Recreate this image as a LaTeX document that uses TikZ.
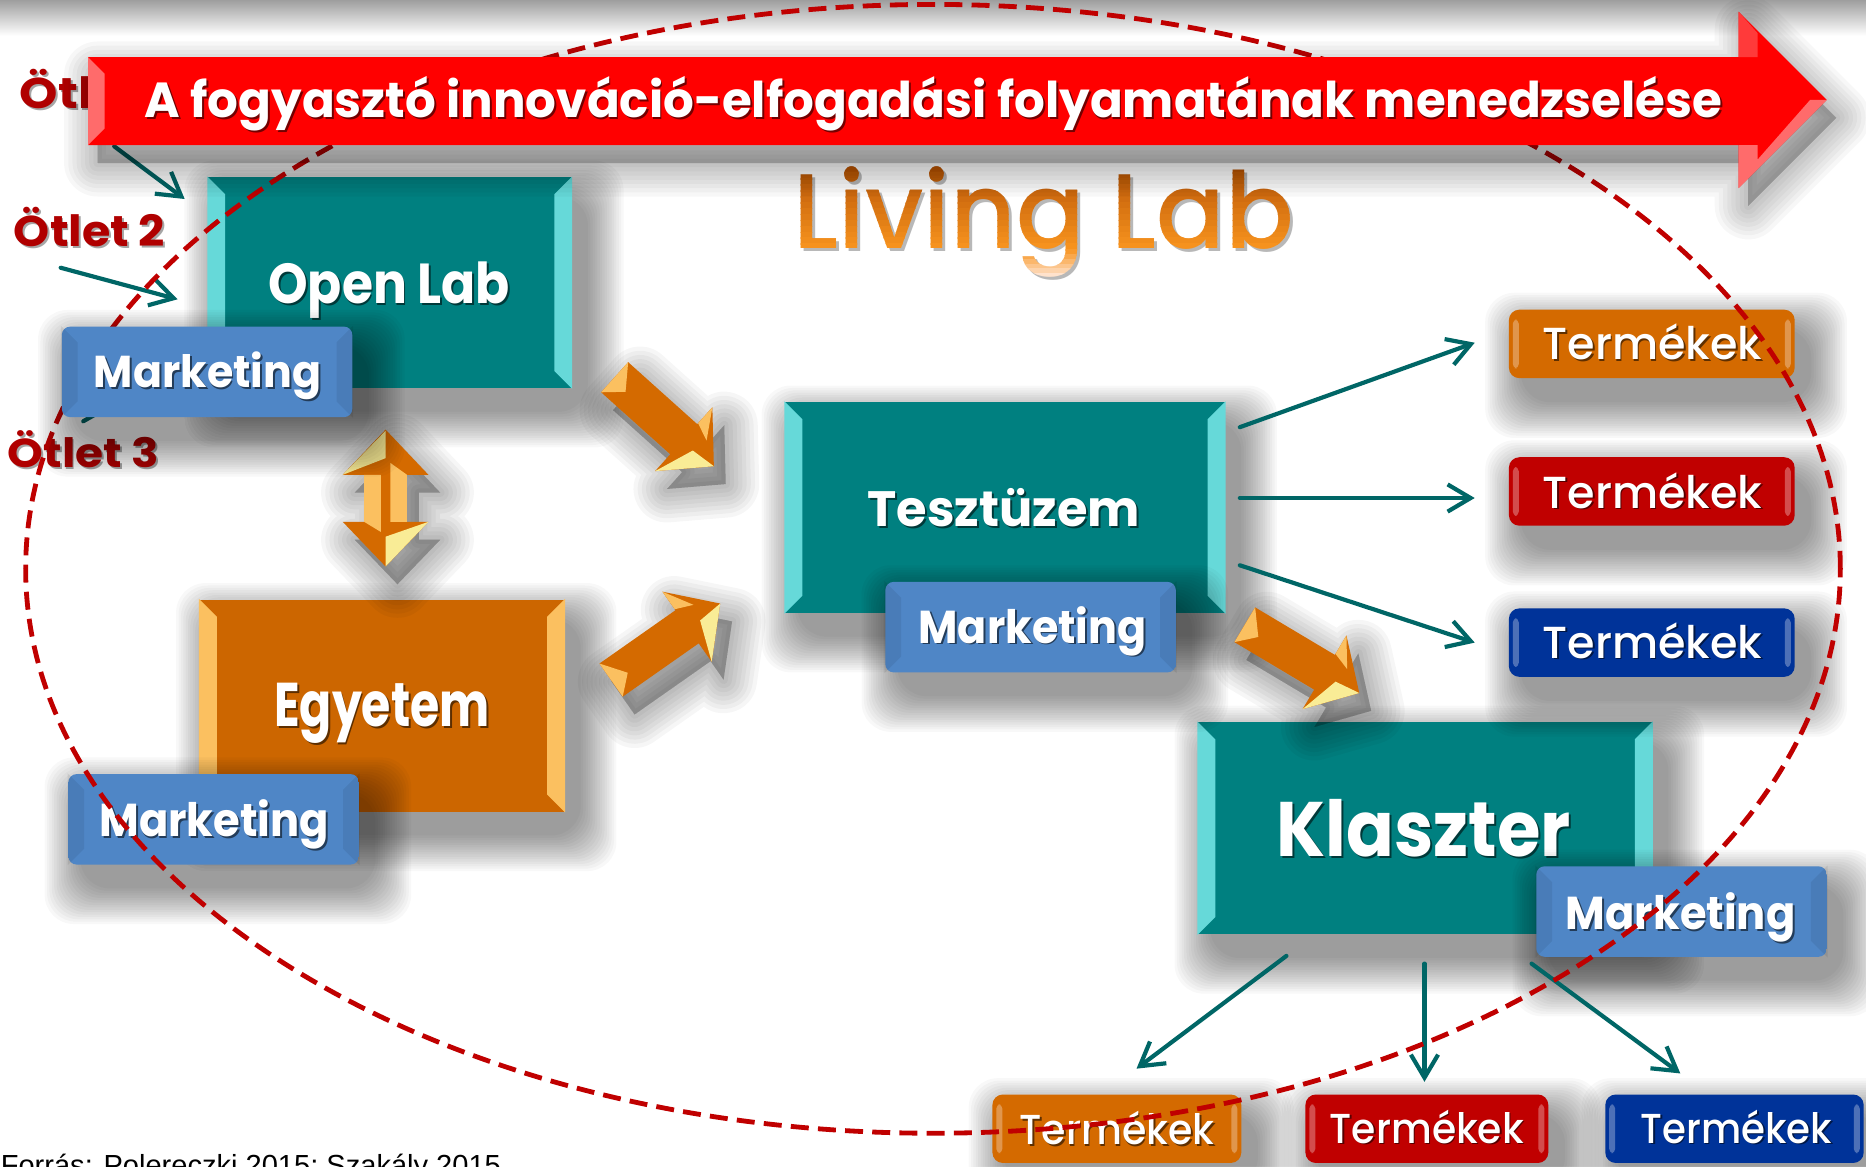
\documentclass[tikz,border=0pt]{standalone}
\usepackage{fontspec}
\setmainfont{Poppins}
\newfontfamily\medfont{Poppins Medium}
\newfontfamily\srcfont{Liberation Sans}
\usetikzlibrary{calc,arrows.meta}

\definecolor{tealface}{HTML}{008080}
\definecolor{tealbevel}{HTML}{66D9D9}
\definecolor{tealarrow}{HTML}{006666}
\definecolor{egyface}{HTML}{CC6600}
\definecolor{egybevel}{HTML}{FBC060}
\definecolor{arrorange}{HTML}{D46A00}
\definecolor{arrlight}{HTML}{FBC060}
\definecolor{arrpale}{HTML}{F9EC96}
\definecolor{ideared}{HTML}{B00000}
\definecolor{ellred}{HTML}{C00000}
\definecolor{banred}{HTML}{FF0000}
\definecolor{banlight}{HTML}{FF6B6B}
\definecolor{banmid}{HTML}{FF3A3A}
\definecolor{mkttop}{HTML}{7CBAF8}
\definecolor{mktmid}{HTML}{4F86C6}
\definecolor{mktbot}{HTML}{6AAAF0}
\definecolor{tOrange}{HTML}{D46A00}
\definecolor{tRed}{HTML}{C00000}
\definecolor{tBlue}{HTML}{003399}
\definecolor{llpale}{HTML}{FFE2CC}
\definecolor{llbright}{HTML}{F7931E}
\definecolor{lldark}{HTML}{B85406}

\pgfdeclareverticalshading{mktshade}{100bp}{color(0bp)=(mktbot); color(14bp)=(mktmid); color(80bp)=(mktmid); color(100bp)=(mkttop)}

\newcommand\boxlabel[6]{%
  \node[lblsh] (#1-sh) at (#2+1.6,#3+1.6) {\resizebox{#4}{#5}{#6}};
  \node[lbl] (#1) at (#2,#3) {\resizebox{#4}{#5}{#6}};}
\newcommand\termlabel[6]{%
  \node[lblsh,font=\medfont] (#1-sh) at (#2+1.4,#3+1.4) {\resizebox{#4}{#5}{#6}};
  \node[lbl,font=\medfont] (#1) at (#2,#3) {\resizebox{#4}{#5}{#6}};}
\newcommand\sidebevel[2]{%
  \fill[#2] (#1.north west) -- ++(15,15) -- ($(#1.south west)+(15,-15)$) -- (#1.south west) -- cycle;
  \fill[#2] (#1.north east) -- ++(-15,15) -- ($(#1.south east)+(-15,-15)$) -- (#1.south east) -- cycle;}
\newcommand\mktbevel[1]{%
  \fill[black, opacity=0.07] (#1.north west) -- ++(14,14) -- ($(#1.south west)+(14,-14)$) -- (#1.south west) -- cycle;
  \fill[black, opacity=0.07] (#1.north east) -- ++(-14,14) -- ($(#1.south east)+(-14,-14)$) -- (#1.south east) -- cycle;}
\newcommand\termhl[1]{%
  \fill[white, opacity=0.3, rounded corners=1pt] ($(#1.north west)+(4,9)$) rectangle ($(#1.south west)+(9,-9)$);
  \fill[white, opacity=0.3, rounded corners=1pt] ($(#1.north east)+(-9,9)$) rectangle ($(#1.south east)+(-4,-9)$);}
% soft shadow of a box: centre x, centre y, width, height (units)
\newcommand\shadowbox[4]{%
  \foreach \e in {32,30,...,2}{%
    \fill[black, opacity=0.028, rounded corners=7pt] (#1-#3/2+12-\e, #2-#4/2+18-\e) rectangle (#1+#3/2+12+\e, #2+#4/2+18+\e);}}
\newcommand\arrowpoly{(0,-17) -- (78,-17) -- (78,-36) -- (112,0) -- (78,36) -- (78,17) -- (0,17) -- cycle}
\newcommand\arrowtd[4]{%
  \begin{scope}[shift={(#2+10,#3+15)}, rotate=#4]
    \foreach \w in {16,14,...,2}{\filldraw[black, opacity=0.035, line width=\w pt, line join=round] \arrowpoly;}
  \end{scope}
  \begin{scope}[shift={(#2,#3)}, rotate=#4]
    \coordinate (#1-tail) at (0,0);
    \coordinate (#1-tip) at (112,0);
    \fill[arrorange] \arrowpoly;
    \fill[arrlight] (0,-17) -- (0,17) -- (15,3) -- cycle;
    \fill[arrpale] (78,36) -- (90,2) -- (112,0) -- cycle;
    \fill[arrlight] (78,-18) -- (78,-36) -- (93,-12) -- cycle;
  \end{scope}}
\newcommand\dblpoly{(324,361) -- (360,399) -- (342,399) -- (342,438.5) -- (360,438.5) -- (324,476) -- (288,438.5) -- (306,438.5) -- (306,399) -- (288,399) -- cycle}
\newcommand\banpoly{(74,48) -- (1461,48) -- (1461,10) -- (1535,84) -- (1461,158) -- (1461,122) -- (74,122) -- cycle}
\newcommand\LLtext{\resizebox{4.205cm}{0.686cm}{\medfont Living Lab}}

\begin{document}
\begin{tikzpicture}[x=0.01cm, y=-0.01cm,
  lbl/.style={anchor=base, inner sep=0pt, text=white, font=\bfseries},
  lblsh/.style={anchor=base, inner sep=0pt, text=black, text opacity=0.55, font=\bfseries},
  otl/.style={anchor=base west, inner sep=0pt, text=ideared, font=\bfseries},
  otlsh/.style={anchor=base west, inner sep=0pt, text=black, text opacity=0.35, font=\bfseries},
  tealbox/.style={fill=tealface, inner sep=0pt},
  egybox/.style={fill=egyface, inner sep=0pt},
  mkt/.style={shade, shading=mktshade, inner sep=0pt, rounded corners=2pt, minimum width=2.44cm, minimum height=0.76cm},
  termbox/.style={inner sep=0pt, rounded corners=2.5pt, minimum height=0.575cm},
  tealcon/.style={draw=tealarrow, line width=1pt, line cap=round, -{Straight Barb[length=5.5pt,width=6.5pt]}},
]
\useasboundingbox (0,0) rectangle (1568,980);
\clip (0,0) rectangle (1568,980);
\fill[white] (0,0) rectangle (1568,980);
\shade[top color=black!38, bottom color=white] (0,0) rectangle (1568,30);

% --- idea labels
\node[otlsh] (otlet1-sh) at (17.5,92.5) {\resizebox{1.27cm}{0.33cm}{Ötlet 1}};
\node[otl] (otlet1) at (16,91) {\resizebox{1.27cm}{0.33cm}{Ötlet 1}};
\node[otlsh] (otlet2-sh) at (12.5,208.5) {\resizebox{1.27cm}{0.33cm}{Ötlet 2}};
\node[otl] (otlet2) at (11,207) {\resizebox{1.27cm}{0.33cm}{Ötlet 2}};
\node[otlsh] (otlet3-sh) at (7.5,394.5) {\resizebox{1.27cm}{0.31cm}{Ötlet 3}};
\node[otl] (otlet3) at (6,393) {\resizebox{1.27cm}{0.31cm}{Ötlet 3}};

% --- main boxes
\shadowbox{327.5}{237.5}{305}{177}
\node[tealbox, minimum width=3.05cm, minimum height=1.77cm] (openlab) at (327.5,237.5) {};
\sidebevel{openlab}{tealbevel}
\shadowbox{321}{593}{306}{178}
\node[egybox, minimum width=3.06cm, minimum height=1.78cm] (egyetem) at (321,593) {};
\sidebevel{egyetem}{egybevel}
\shadowbox{844.5}{426.5}{369}{177}
\node[tealbox, minimum width=3.69cm, minimum height=1.77cm] (tesz) at (844.5,426.5) {};
\sidebevel{tesz}{tealbevel}
\shadowbox{1197.5}{696}{381}{178}
\node[tealbox, minimum width=3.81cm, minimum height=1.78cm] (klaszter) at (1197.5,696) {};
\sidebevel{klaszter}{tealbevel}

% --- idea arrows
\coordinate (o1s) at (96,123);
\coordinate (o2s) at (51,225);
\coordinate (o3s) at (70,354);
\draw[tealcon] (o1s) -- ($(openlab.north west)+(-19,19)$);
\draw[tealcon] (o2s) -- ($(openlab.west)+(-25,14)$);
\draw[tealcon] (o3s) -- ($(openlab.west)+(-5,60)$);

% --- 3D arrows
\arrowtd{a1}{516.5}{317}{-41.9}
\arrowtd{a2}{513.5}{571.5}{35.06}
\arrowtd{a3}{1046}{525}{-30.8}

% double vertical arrow
\begin{scope}[shift={(10,15)}]
  \foreach \w in {16,14,...,2}{\filldraw[black, opacity=0.035, line width=\w pt, line join=round] \dblpoly;}
\end{scope}
\fill[arrorange] \dblpoly;
\fill[arrlight] (306,399) -- (320,399) -- (320,447) -- (306,438.5) -- cycle;
\fill[arrlight] (328,389) -- (342,399) -- (342,438.5) -- (328,438.5) -- cycle;
\fill[arrpale] (288,399) -- (324,362) -- (324,385) -- (306,392) -- cycle;
\fill[arrpale] (324,451) -- (360,438.5) -- (324,476) -- cycle;

% --- product boxes
\shadowbox{1388}{289}{240}{58}
\shadowbox{1388}{413}{240}{58}
\shadowbox{1388}{540}{240}{58}
\shadowbox{938.5}{948.5}{209}{57}
\shadowbox{1199}{948.5}{204}{57}
\shadowbox{1457.5}{948.5}{217}{57}
\node[termbox, fill=tOrange, minimum width=2.40cm] (term1) at (1388,289) {};
\node[termbox, fill=tRed, minimum width=2.40cm] (term2) at (1388,413) {};
\node[termbox, fill=tBlue, minimum width=2.40cm] (term3) at (1388,540) {};
\node[termbox, fill=tOrange, minimum width=2.09cm] (tb1) at (938.5,948.5) {};
\node[termbox, fill=tRed, minimum width=2.04cm] (tb2) at (1199,948.5) {};
\node[termbox, fill=tBlue, minimum width=2.17cm] (tb3) at (1457.5,948.5) {};
\termhl{term1}\termhl{term2}\termhl{term3}\termhl{tb1}\termhl{tb2}\termhl{tb3}

% --- box labels
\boxlabel{openlabtxt}{327}{255}{2.03cm}{0.35cm}{Open Lab}
\boxlabel{egyetemtxt}{321}{610.4}{1.81cm}{0.364cm}{Egyetem}
\boxlabel{tesztxt}{843.5}{442.4}{2.29cm}{0.32cm}{Tesztüzem}
\boxlabel{klasztertxt}{1196.5}{720}{2.47cm}{0.48cm}{Klaszter}
\termlabel{term1txt}{1388.7}{302.4}{1.847cm}{0.30cm}{Termékek}
\termlabel{term2txt}{1388.7}{427}{1.847cm}{0.30cm}{Termékek}
\termlabel{term3txt}{1388.7}{553}{1.847cm}{0.30cm}{Termékek}
\termlabel{tb1txt}{938.7}{961.8}{1.64cm}{0.28cm}{Termékek}
\termlabel{tb2txt}{1199}{960.5}{1.63cm}{0.28cm}{Termékek}
\termlabel{tb3txt}{1459}{960.5}{1.61cm}{0.28cm}{Termékek}

% --- marketing buttons (under the ellipse)
\shadowbox{179.5}{688.5}{244}{76}
\node[mkt] (mkegy) at (179.5,688.5) {};
\mktbevel{mkegy}
\boxlabel{mkegytxt}{180}{703}{1.93cm}{0.31cm}{Marketing}
\shadowbox{866}{527}{244}{76}
\node[mkt] (mktesz) at (866,527) {};
\mktbevel{mktesz}
\boxlabel{mkteszxt}{867.7}{540.4}{1.915cm}{0.31cm}{Marketing}
\shadowbox{1413}{766}{244}{76}
\node[mkt] (mkkl) at (1413,766) {};
\mktbevel{mkkl}
\boxlabel{mkkltxt}{1412.2}{781.2}{1.93cm}{0.31cm}{Marketing}

% --- connectors
\draw[tealcon] ($(tesz.east)+(12,-67.5)$) -- ($(term1.west)+(-28,-1)$);
\draw[tealcon] ($(tesz.east)+(12,-8)$) -- ($(term2.west)+(-28,5.5)$);
\draw[tealcon] ($(tesz.east)+(12,48.5)$) -- ($(term3.west)+(-28,0)$);
\draw[tealcon] ($(klaszter.south)+(-116.5,17.5)$) -- ($(tb1.north)+(16.5,-21)$);
\draw[tealcon] ($(klaszter.south)+(-0.5,24)$) -- ($(tb2.north)+(-2,-10)$);
\draw[tealcon] ($(klaszter.south)+(89.5,24)$) -- ($(tb3.north)+(-45.5,-17)$);

% --- Living Lab title (banded gradient)
\node[anchor=base, inner sep=0pt, text=black, text opacity=0.28] (livingsh) at (879.5,211.5) {\LLtext};
\foreach \i in {0,...,14}{%
  \pgfmathtruncatemacro\pp{max(0,min(100,(\i*5-2.5)/68*100))}
  \begin{scope}
    \clip (650,135+\i*5) rectangle (1100,140.6+\i*5);
    \node[anchor=base, inner sep=0pt, text=llbright!\pp!lldark] (llA\i) at (877,208.6) {\LLtext};
  \end{scope}}
\foreach \i in {0,...,5}{%
  \pgfmathtruncatemacro\pp{max(0,min(100,(\i*4+2)/22*100))}
  \begin{scope}
    \clip (650,210+\i*4) rectangle (1100,214.6+\i*4);
    \node[anchor=base, inner sep=0pt, text=llpale!\pp!llbright] (llB\i) at (877,208.6) {\LLtext};
  \end{scope}}
\coordinate (livinglab) at (877,208.6);

% --- dashed ellipse
\draw[ellred, line width=1.15pt, dash pattern=on 4.3pt off 2.2pt] (784,478) ellipse [x radius=7.62cm, y radius=4.74cm];

% --- Open Lab marketing (over the ellipse)
\shadowbox{174}{312.5}{244}{76}
\node[mkt] (mkopen) at (174,312.5) {};
\mktbevel{mkopen}
\boxlabel{mkopentxt}{174.5}{326}{1.91cm}{0.30cm}{Marketing}

% --- banner
\begin{scope}[shift={(8,15)}]
  \foreach \w in {16,14,...,2}{\filldraw[black, opacity=0.032, line width=\w pt, line join=round] \banpoly;}
\end{scope}
\fill[banred] \banpoly;
\fill[banlight] (74,48) -- (88,62) -- (88,108) -- (74,122) -- cycle;
\fill[banmid] (1461,10) -- (1477,28) -- (1477,48) -- (1461,48) -- cycle;
\fill[banlight] (1535,84) -- (1461,158) -- (1461,122) -- (1477,122) -- (1477,134) -- (1521,84) -- cycle;
\boxlabel{bantext}{784.5}{99}{13.25cm}{0.345cm}{A fogyasztó innováció-elfogadási folyamatának menedzselése}

% --- source
\node[anchor=base west, inner sep=0pt, text=black] (source) at (0,988) {\resizebox{4.2cm}{!}{\srcfont Forrás: Polereczki 2015; Szakály 2015}};
\end{tikzpicture}
\end{document}
